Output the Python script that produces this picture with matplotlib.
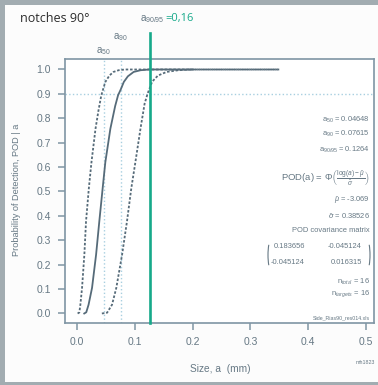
import matplotlib
matplotlib.use("Agg")
import matplotlib.pyplot as plt
from matplotlib.patches import Rectangle, Arc

# POD fit
fit_a = [0.0125, 0.016, 0.020, 0.026, 0.033, 0.0386, 0.0444, 0.049, 0.0577,
         0.066, 0.071, 0.076, 0.081, 0.088, 0.098, 0.110, 0.125, 0.20]
fit_pod = [0.0, 0.005, 0.036, 0.105, 0.241, 0.378, 0.514, 0.62, 0.757,
           0.85, 0.894, 0.92, 0.949, 0.972, 0.99, 0.997, 1.0, 1.0]

# upper confidence bound (left dashed curve)
upper_a = [0.001, 0.004, 0.0058, 0.0087, 0.0127, 0.0156, 0.0205, 0.025, 0.032,
           0.037, 0.042, 0.049, 0.056, 0.063, 0.072, 0.083, 0.35]
upper_pod = [0.0, 0.004, 0.036, 0.105, 0.241, 0.378, 0.514, 0.62, 0.757,
             0.83, 0.894, 0.949, 0.975, 0.99, 0.997, 1.0, 1.0]

# lower 95% bound (right dashed curve)
lower_a = [0.043, 0.052, 0.0606, 0.068, 0.078, 0.0865, 0.094, 0.101, 0.110,
           0.117, 0.122, 0.130, 0.140, 0.155, 0.175, 0.20, 0.35]
lower_pod = [0.0, 0.003, 0.036, 0.105, 0.241, 0.378, 0.514, 0.62, 0.76,
             0.86, 0.90, 0.95, 0.975, 0.99, 0.997, 1.0, 1.0]

a50 = 0.04648
a90 = 0.07615
a90_95 = 0.1264
mu_hat = -3.069
sigma_hat = 0.38526
cov = [["0.183656", "-0.045124"], ["-0.045124", "0.016315"]]
n_total = 16
n_targets = 16

x_ticks = [0.0, 0.1, 0.2, 0.3, 0.4, 0.5]
y_ticks = [0.0, 0.1, 0.2, 0.3, 0.4, 0.5, 0.6, 0.7, 0.8, 0.9, 1.0]

W, H = 378, 385
gray = "#667884"
curve = "#566b79"
dotc = "#a8cfe0"
green = "#16a98a"

plt.rcParams["font.family"] = ["Liberation Sans", "DejaVu Sans"]
plt.rcParams["mathtext.fontset"] = "custom"
plt.rcParams["mathtext.rm"] = "Liberation Sans"
plt.rcParams["mathtext.it"] = "Liberation Sans:italic"

fig = plt.figure(figsize=(W / 100, H / 100), dpi=100, facecolor="#a2acb1")
fig.patches.append(Rectangle((5 / W, 3 / H), (W - 5) / W, (H - 8) / H,
                             transform=fig.transFigure, facecolor="#fcfcfc",
                             edgecolor="none", zorder=-10))

ax = fig.add_axes([65 / W, (H - 323) / H, 309 / W, 264 / H])
ax.set_zorder(1)
ax.set_xlim(-0.0208, 0.514)
ax.set_ylim(-0.039, 1.043)

# reference lines
ax.axhline(0.9, color=dotc, ls=":", lw=1.0)
ax.axvline(a50, color=dotc, ls=":", lw=1.0)
ax.axvline(a90, color=dotc, ls=":", lw=1.0)

ax.plot(upper_a, upper_pod, color=curve, lw=1.3, dashes=(1.4, 1.0))
ax.plot(lower_a, lower_pod, color=curve, lw=1.3, dashes=(1.4, 1.0))
ax.plot(fit_a, fit_pod, color=curve, lw=1.3)

ax.axvline(a90_95, ymin=0, ymax=(323 - 33) / 264, color=green, lw=1.9,
           clip_on=False, zorder=5)

for s in ax.spines.values():
    s.set_color("#7f95a4")
    s.set_linewidth(1.2)
ax.set_xticks(x_ticks)
ax.set_xticklabels([f"{v:.1f}" for v in x_ticks])
ax.set_yticks(y_ticks)
ax.set_yticklabels([f"{v:.1f}" for v in y_ticks])
ax.tick_params(direction="out", length=5, width=1.1, color="#7f95a4",
               labelcolor=gray, labelsize=7.5, pad=5)

# labels
fig.text(220 / W, 1 - 369 / H, "Size, a  (mm)", ha="center", va="center",
         fontsize=7.3, color=gray)
fig.text(17 / W, 1 - 190 / H, "Probability of Detection, POD | a",
         rotation=90, ha="center", va="center", fontsize=6.6, color=gray)
fig.text(375 / W, 1 - 363 / H, "mh1823", ha="right", va="center",
         fontsize=3.8, color=gray)
fig.text(20 / W, 1 - 19 / H, "notches 90°", ha="left", va="center",
         fontsize=9, color="#2b2b2b", family=["Open Sans", "DejaVu Sans"])
fig.text(164 / W, 1 - 19 / H, r"a$_{90/95}$", ha="right", va="center",
         fontsize=7.2, color=gray)
fig.text(165 / W, 1 - 18 / H, "=0,16", ha="left", va="center",
         fontsize=8, color=green, family=["Open Sans", "DejaVu Sans"])
fig.text(103 / W, 1 - 51 / H, r"a$_{50}$", ha="center", va="center",
         fontsize=7, color=gray)
fig.text(120 / W, 1 - 37 / H, r"a$_{90}$", ha="center", va="center",
         fontsize=7, color=gray)


def ay(py):
    return (323 - py) / 264


def ax_x(px):
    return (px - 65) / 309


fs = 5.4
rx = ax_x(370)
ax.text(rx, ay(120), r"a$_{50}$ = %.5f" % a50, transform=ax.transAxes,
        ha="right", va="center", fontsize=fs, color=gray)
ax.text(rx, ay(134), r"a$_{90}$ = %.5f" % a90, transform=ax.transAxes,
        ha="right", va="center", fontsize=fs, color=gray)
ax.text(rx, ay(150), r"a$_{90/95}$ = %.4f" % a90_95, transform=ax.transAxes,
        ha="right", va="center", fontsize=fs, color=gray)
ax.text(rx, ay(178),
        r"POD(a) = $\Phi\left(\frac{\log(a) - \hat{\mu}}{\hat{\sigma}}\right)$",
        transform=ax.transAxes, ha="right", va="center", fontsize=6.8,
        color=gray)
ax.text(rx, ay(200), r"$\hat{\mu}$ = %.3f" % mu_hat, transform=ax.transAxes,
        ha="right", va="center", fontsize=fs, color=gray)
ax.text(rx, ay(216), r"$\hat{\sigma}$ = %.5f" % sigma_hat,
        transform=ax.transAxes, ha="right", va="center", fontsize=fs,
        color=gray)
ax.text(rx, ay(230), "POD covariance matrix", transform=ax.transAxes,
        ha="right", va="center", fontsize=fs, color=gray)
for i, row in enumerate(cov):
    py = 247 + 16 * i
    ax.text(ax_x(305), ay(py), row[0], transform=ax.transAxes, ha="right",
            va="center", fontsize=fs, color=gray)
    ax.text(ax_x(362), ay(py), row[1], transform=ax.transAxes, ha="right",
            va="center", fontsize=fs, color=gray)
pw, ph = 8 / 309, 34 / 264
ax.add_patch(Arc((ax_x(272), ay(255)), pw, ph, theta1=105, theta2=255,
                 transform=ax.transAxes, color=gray, lw=0.8))
ax.add_patch(Arc((ax_x(366), ay(255)), pw, ph, theta1=-75, theta2=75,
                 transform=ax.transAxes, color=gray, lw=0.8))
ax.text(rx, ay(282), r"n$_{total}$ = %d" % n_total, transform=ax.transAxes,
        ha="right", va="center", fontsize=fs, color=gray)
ax.text(rx, ay(294), r"n$_{targets}$ = %d" % n_targets,
        transform=ax.transAxes, ha="right", va="center", fontsize=fs,
        color=gray)
ax.text(rx, ay(318), "Side_Rias90_res014.xls", transform=ax.transAxes,
        ha="right", va="center", fontsize=3.8, color=gray)

fig.savefig("out.png", dpi=100, facecolor=fig.get_facecolor())
